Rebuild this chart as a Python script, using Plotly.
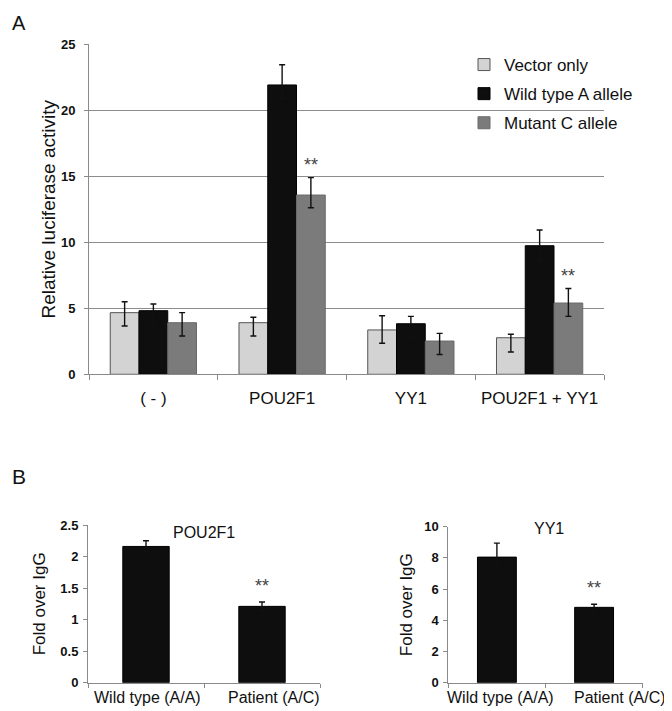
import plotly.graph_objects as go

# ---------------- Data ----------------
# Panel A
categories_a = ["( - )", "POU2F1", "YY1", "POU2F1 + YY1"]
series_names = ["Vector only", "Wild type A allele", "Mutant C allele"]
vector_only = [4.67, 3.91, 3.36, 2.77]
vector_err_hi = [0.83, 0.41, 1.08, 0.26]
vector_err_lo = [1.01, 1.01, 1.01, 1.08]
wild_type = [4.82, 21.92, 3.83, 9.74]
wild_err_hi = [0.51, 1.53, 0.56, 1.19]
wild_err_lo = [1.09, 1.04, 1.03, 1.10]
mutant = [3.91, 13.58, 2.52, 5.40]
mutant_err_hi = [0.76, 1.32, 0.58, 1.10]
mutant_err_lo = [1.01, 0.96, 1.02, 1.01]
sig_a = ["", "**", "", "**"]

# Panel B
categories_b = ["Wild type (A/A)", "Patient (A/C)"]
pou2f1_fold = [2.16, 1.21]
pou2f1_err = [0.09, 0.07]
yy1_fold = [8.05, 4.83]
yy1_err = [0.90, 0.20]
sig_b = ["", "**"]

# ---------------- Styles / geometry ----------------
W, H = 672, 711
OFF = 8  # page body margin of the browser
FW, FH = W - OFF, H - OFF
FONT = "Liberation Sans, Arial, sans-serif"
TXT = "#111111"
AX = "#8a8a8a"
fills = ["#d3d3d3", "#0e0e0e", "#7b7b7b"]
outlines = ["#555555", "#000000", "#6a6a6a"]


def px_x(p):
    return (p - OFF) / FW


def px_y(p):
    return 1 - (p - OFF) / FH


fig = go.Figure()

vals_a = [vector_only, wild_type, mutant]
hi_a = [vector_err_hi, wild_err_hi, mutant_err_hi]
lo_a = [vector_err_lo, wild_err_lo, mutant_err_lo]
for i in range(3):
    fig.add_trace(go.Bar(
        x=categories_a, y=vals_a[i], name=series_names[i],
        marker=dict(color=fills[i], line=dict(color=outlines[i], width=1)),
        error_y=dict(type="data", symmetric=False, array=hi_a[i], arrayminus=lo_a[i],
                     color="#111111", thickness=1.4, width=3),
        xaxis="x", yaxis="y", legendgroup=str(i),
    ))

fig.add_trace(go.Bar(
    x=categories_b, y=pou2f1_fold, width=0.4, showlegend=False,
    marker=dict(color="#0e0e0e", line=dict(color="#000000", width=1)),
    error_y=dict(type="data", array=pou2f1_err, color="#111111", thickness=1.4, width=3),
    xaxis="x2", yaxis="y2",
))
fig.add_trace(go.Bar(
    x=categories_b, y=yy1_fold, width=0.4, showlegend=False,
    marker=dict(color="#0e0e0e", line=dict(color="#000000", width=1)),
    error_y=dict(type="data", array=yy1_err, color="#111111", thickness=1.4, width=3),
    xaxis="x3", yaxis="y3",
))

annotations = []
# significance marks, panel A (above mutant bars)
bar_w = (1 - 0.33) / 3
for j, s in enumerate(sig_a):
    if s:
        annotations.append(dict(
            x=j + bar_w, y=mutant[j] + mutant_err_hi[j], xref="x", yref="y",
            text=s, showarrow=False, yanchor="bottom", yshift=1,
            font=dict(family=FONT, size=18, color="#444444"),
        ))
for j, s in enumerate(sig_b):
    if s:
        annotations.append(dict(
            x=categories_b[j], y=pou2f1_fold[j] + pou2f1_err[j], xref="x2", yref="y2",
            text=s, showarrow=False, yanchor="bottom", yshift=4,
            font=dict(family=FONT, size=18, color="#444444"),
        ))
        annotations.append(dict(
            x=categories_b[j], y=yy1_fold[j] + yy1_err[j], xref="x3", yref="y3",
            text=s, showarrow=False, yanchor="bottom", yshift=4,
            font=dict(family=FONT, size=18, color="#444444"),
        ))

# category labels of panel B (placed as in the reference, slightly off-centre)
label_shift_b = {"x2": [1, 12], "x3": [4, 26]}
for ax, shifts in label_shift_b.items():
    for j, cat in enumerate(categories_b):
        annotations.append(dict(
            x=cat, xref=ax, y=px_y(697), yref="paper", text=cat, showarrow=False,
            xanchor="center", yanchor="middle", xshift=shifts[j],
            font=dict(family=FONT, size=16, color=TXT),
        ))

# panel letters and subplot titles
annotations += [
    dict(x=px_x(10), y=px_y(10), xref="paper", yref="paper", text="A", showarrow=False,
         xanchor="left", yanchor="top", font=dict(family=FONT, size=20, color=TXT)),
    dict(x=px_x(10), y=px_y(476), xref="paper", yref="paper", text="B", showarrow=False,
         xanchor="left", yanchor="middle", font=dict(family=FONT, size=21, color=TXT)),
    dict(x=0.5, y=px_y(532), xref="x2 domain", yref="paper", text="POU2F1", showarrow=False,
         xanchor="center", yanchor="middle", font=dict(family=FONT, size=16, color=TXT)),
    dict(x=0.52, y=px_y(528), xref="x3 domain", yref="paper", text="YY1", showarrow=False,
         xanchor="center", yanchor="middle", font=dict(family=FONT, size=16, color=TXT)),
]

tick_bold = dict(family=FONT, size=13, color=TXT, weight=700)

fig.update_layout(
    width=FW, height=FH,
    margin=dict(l=0, r=0, t=0, b=0, autoexpand=False),
    paper_bgcolor="white", plot_bgcolor="white",
    barmode="group", bargap=0.33, bargroupgap=0,
    showlegend=True,
    legend=dict(x=px_x(464), y=px_y(47), xanchor="left", yanchor="top",
                font=dict(family=FONT, size=17, color=TXT),
                bgcolor="rgba(0,0,0,0)", tracegroupgap=4, traceorder="grouped"),
    annotations=annotations,
    xaxis=dict(domain=[px_x(89), px_x(604)], anchor="y", type="category", automargin=False,
               range=[-0.5, 3.5], showline=True, linecolor=AX, linewidth=1,
               ticks="outside", tickson="boundaries", ticklen=5, tickcolor=AX,
               tickfont=dict(family=FONT, size=17, color=TXT), ticklabelstandoff=8,
               tickangle=0, showgrid=False, zeroline=False),
    yaxis=dict(domain=[px_y(374.3), px_y(44.3)], anchor="x", range=[0, 25], dtick=5,
               automargin=False,
               showline=True, linecolor=AX, linewidth=1, ticks="outside", ticklen=4,
               tickcolor=AX, tickfont=tick_bold, ticklabelstandoff=6,
               showgrid=True, gridcolor="#8c8c8c", gridwidth=1, zeroline=False,
               title=dict(text="Relative luciferase activity", standoff=0,
                          font=dict(family=FONT, size=19, color=TXT))),
    xaxis2=dict(domain=[px_x(88), px_x(320)], anchor="y2", type="category", automargin=False,
                range=[-0.5, 1.5], showline=True, linecolor=AX, linewidth=1,
                ticks="outside", tickson="boundaries", ticklen=4, tickcolor=AX,
                showticklabels=False, showgrid=False, zeroline=False),
    yaxis2=dict(domain=[px_y(682.7), px_y(525)], anchor="x2", range=[0, 2.5], dtick=0.5,
                automargin=False,
                showline=True, linecolor=AX, linewidth=1, ticks="outside", ticklen=4,
                tickcolor=AX, tickfont=tick_bold, ticklabelstandoff=2,
                showgrid=False, zeroline=False,
                title=dict(text="Fold over IgG", standoff=10,
                           font=dict(family=FONT, size=17, color=TXT))),
    xaxis3=dict(domain=[px_x(448.3), px_x(642.7)], anchor="y3", type="category", automargin=False,
                range=[-0.5, 1.5], showline=True, linecolor=AX, linewidth=1,
                ticks="outside", tickson="boundaries", ticklen=4, tickcolor=AX,
                showticklabels=False, showgrid=False, zeroline=False),
    yaxis3=dict(domain=[px_y(682.7), px_y(526.7)], anchor="x3", range=[0, 10], dtick=2,
                automargin=False,
                showline=True, linecolor=AX, linewidth=1, ticks="outside", ticklen=4,
                tickcolor=AX, tickfont=tick_bold, ticklabelstandoff=2,
                showgrid=False, zeroline=False,
                title=dict(text="Fold over IgG", standoff=7,
                           font=dict(family=FONT, size=17, color=TXT))),
)

fig.write_html("out.html")
